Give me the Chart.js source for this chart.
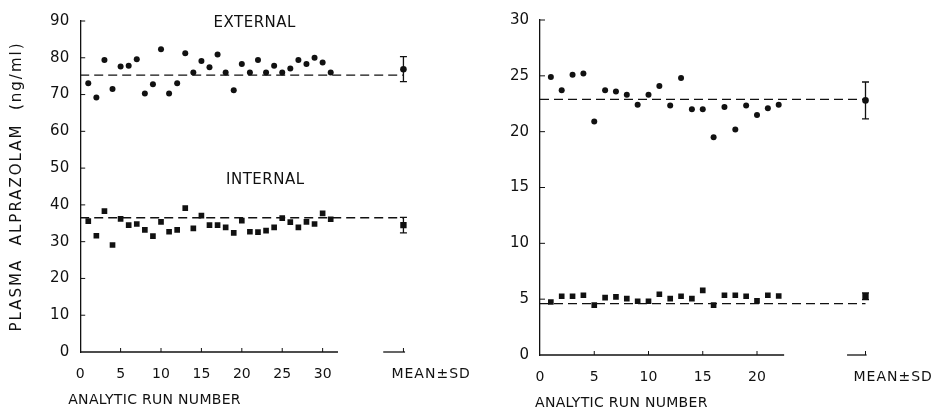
<!DOCTYPE html>
<html><head><meta charset="utf-8">
<script src="https://cdn.jsdelivr.net/npm/chart.js@4"></script>
<style>
html,body{margin:0;padding:0;background:#fff;}
#wrap{position:relative;width:937px;height:413px;background:#fff;}
.box{position:absolute;top:0;height:413px;}
</style></head><body>
<div id="wrap">
<div class="box" style="left:0;width:470px"><canvas id="c1"></canvas></div>
<div class="box" style="left:470px;width:467px"><canvas id="c2"></canvas></div>
</div>
<script>
// ---------- data ----------
const leftRuns = [1,2,3,4,5,6,7,8,9,10,11,12,13,14,15,16,17,18,19,20,21,22,23,24,25,26,27,28,29,30,31];
const externalValues = [73.1,69.2,79.4,71.5,77.6,77.8,79.6,70.3,72.8,82.3,70.3,73.1,81.2,76.0,79.1,77.4,80.9,76.0,71.2,78.3,76.0,79.4,76.0,77.8,76.0,77.1,79.4,78.3,80.0,78.7,76.0];
const internalValues = [35.6,31.6,38.3,29.1,36.2,34.5,34.8,33.2,31.5,35.4,32.7,33.2,39.1,33.6,37.1,34.5,34.5,33.9,32.4,35.7,32.7,32.6,33.0,33.9,36.4,35.3,33.9,35.4,34.8,37.7,36.1];
const externalTarget = 75.3;
const internalTarget = 36.5;
const externalMean = 76.9, externalSd = 3.4;
const internalMean = 34.5, internalSd = 2.1;
const leftMeanRun = 40;
const leftXTicks = [0,5,10,15,20,25,30];
const leftYTicks = [0,10,20,30,40,50,60,70,80,90];

const rightRuns = [1,2,3,4,5,6,7,8,9,10,11,12,13,14,15,16,17,18,19,20,21,22];
const highValues = [24.9,23.7,25.1,25.2,20.9,23.7,23.6,23.3,22.4,23.3,24.1,22.35,24.8,22.0,22.0,19.5,22.2,20.2,22.35,21.5,22.1,22.4];
const lowValues = [4.75,5.26,5.26,5.35,4.46,5.14,5.2,5.05,4.81,4.81,5.44,5.05,5.26,5.05,5.79,4.46,5.35,5.35,5.26,4.84,5.35,5.28];
const highTarget = 22.9;
const lowTarget = 4.6;
const highMean = 22.8, highSd = 1.65;
const lowMean = 5.26, lowSd = 0.3;
const rightMeanRun = 30;
const rightXTicks = [0,5,10,15,20];
const rightYTicks = [0,5,10,15,20,25,30];

const meanLabel = 'MEAN\u00B1SD';
const xTitle = 'ANALYTIC RUN NUMBER';
const yTitle = 'PLASMA  ALPRAZOLAM  (ng/ml)';

// ---------- drawing ----------
const INK = '#111';
const FONT = "'DejaVu Sans', 'Liberation Sans', Arial, sans-serif";

function spacedText(ctx, text, x, y, spacing) {
  if ('letterSpacing' in ctx) {
    ctx.letterSpacing = spacing + 'px';
    ctx.fillText(text, x, y);
    ctx.letterSpacing = '0px';
  } else {
    ctx.fillText(text, x, y);
  }
}

const decor = {
  id: 'decor',
  afterDatasetsDraw(chart, args, o) {
    const ctx = chart.ctx, xs = chart.scales.x, ys = chart.scales.y;
    const y0 = ys.getPixelForValue(0);
    ctx.save();
    ctx.strokeStyle = INK; ctx.fillStyle = INK; ctx.lineWidth = 1.3;
    // broken x axis
    o.axisSegments.forEach(s => {
      ctx.beginPath();
      ctx.moveTo(xs.getPixelForValue(s[0]), y0);
      ctx.lineTo(xs.getPixelForValue(s[1]), y0);
      ctx.stroke();
    });
    // inward ticks
    ctx.lineWidth = 1;
    o.xTicks.concat([o.meanRun]).forEach(v => {
      if (v === 0) return;
      const px = xs.getPixelForValue(v);
      ctx.beginPath(); ctx.moveTo(px, y0); ctx.lineTo(px, y0 - 4); ctx.stroke();
    });
    o.yTicks.forEach(v => {
      if (v === 0) return;
      const py = ys.getPixelForValue(v);
      ctx.beginPath(); ctx.moveTo(chart.chartArea.left, py); ctx.lineTo(chart.chartArea.left + 5, py); ctx.stroke();
    });
    // error bars
    ctx.lineWidth = 1.3;
    o.errorBars.forEach(e => {
      const px = xs.getPixelForValue(o.meanRun);
      const top = ys.getPixelForValue(e[0] + e[1]);
      const bot = ys.getPixelForValue(e[0] - e[1]);
      ctx.beginPath();
      ctx.moveTo(px, top); ctx.lineTo(px, bot);
      ctx.moveTo(px - 3.5, top); ctx.lineTo(px + 3.5, top);
      ctx.moveTo(px - 3.5, bot); ctx.lineTo(px + 3.5, bot);
      ctx.stroke();
    });
    // annotations
    ctx.textAlign = 'center'; ctx.textBaseline = 'middle';
    ctx.font = '15px ' + FONT;
    o.labels.forEach(l => {
      spacedText(ctx, l.text, xs.getPixelForValue(l.x), ys.getPixelForValue(l.y), 0.5);
    });
    ctx.font = '14px ' + FONT;
    spacedText(ctx, xTitle, xs.getPixelForValue(o.xTitleAt), chart.chartArea.bottom + o.xTitleOffset, 0.3);
    // MEAN±SD label under the broken axis piece
    ctx.textAlign = 'left';
    ctx.font = '14px ' + FONT;
    spacedText(ctx, meanLabel, xs.getPixelForValue(o.meanRun) - 12, chart.chartArea.bottom + 22, 1);
    // y title
    if (o.yTitle) {
      ctx.save();
      ctx.translate(17, (chart.chartArea.top + chart.chartArea.bottom) / 2);
      ctx.rotate(-Math.PI / 2);
      ctx.textAlign = 'center';
      ctx.font = '15px ' + FONT;
      spacedText(ctx, o.yTitle, 0, 0, 2);
      ctx.restore();
    }
    ctx.restore();
  }
};

function makeChart(id, cfg) {
  const series = cfg.series.map(s => ({
    type: 'scatter',
    data: cfg.runs.map((r, i) => ({x: r, y: s.values[i]})),
    pointStyle: s.style, pointRadius: s.style === 'rect' ? 4 : 3,
    backgroundColor: INK, borderColor: INK, borderWidth: 0, order: 1
  }));
  const means = cfg.series.map(s => ({
    type: 'scatter',
    data: [{x: cfg.meanRun, y: s.mean}],
    pointStyle: s.style, pointRadius: s.style === 'rect' ? 4.5 : 3.3,
    backgroundColor: INK, borderColor: INK, borderWidth: 0, order: 1
  }));
  const targets = cfg.series.map(s => ({
    type: 'line',
    data: [{x: 0, y: s.target}, {x: cfg.meanRun, y: s.target}],
    borderColor: INK, borderWidth: 1.3, borderDash: [9, 5],
    pointRadius: 0, fill: false, order: 2, clip: false
  }));
  return new Chart(document.getElementById(id), {
    type: 'scatter',
    data: {datasets: [...targets, ...series, ...means]},
    plugins: [decor],
    options: {
      responsive: true, maintainAspectRatio: false, animation: false,
      events: [],
      layout: {padding: {left: 0, right: cfg.padRight, top: cfg.padTop, bottom: 0}},
      plugins: {
        legend: {display: false}, tooltip: {enabled: false}, title: {display: false},
        decor: {
          axisSegments: cfg.axisSegments, xTicks: cfg.xTicks, yTicks: cfg.yTicks,
          meanRun: cfg.meanRun, labels: cfg.labels,
          errorBars: cfg.series.map(s => [s.mean, s.sd]),
          xTitleAt: cfg.xTitleAt, xTitleOffset: 48, yTitle: cfg.yTitle
        }
      },
      scales: {
        x: {
          type: 'linear', min: 0, max: cfg.xMax,
          afterBuildTicks: sc => { sc.ticks = cfg.xTicks.map(v => ({value: v})); },
          afterFit: sc => { sc.height = cfg.xHeight; },
          ticks: {
            autoSkip: false, maxRotation: 0, padding: 14, color: INK,
            font: {family: FONT, size: 14}
          },
          grid: {display: true, drawOnChartArea: false, drawTicks: false},
          border: {display: false}
        },
        y: {
          type: 'linear', min: 0, max: cfg.yMax,
          afterBuildTicks: sc => { sc.ticks = cfg.yTicks.map(v => ({value: v})); },
          afterFit: sc => { sc.width = cfg.yWidth; },
          ticks: {padding: 11, color: INK, font: {family: FONT, size: 15}},
          grid: {display: true, drawOnChartArea: false, drawTicks: false},
          border: {display: true, color: INK, width: 1.3}
        }
      }
    }
  });
}

makeChart('c1', {
  runs: leftRuns, meanRun: leftMeanRun, xMax: 42, yMax: 90,
  xTicks: leftXTicks, yTicks: leftYTicks,
  padRight: 50.4, padTop: 21, xHeight: 61, yWidth: 80.2,
  axisSegments: [[0, 31.9], [37.5, 40.2]],
  series: [
    {values: externalValues, style: 'circle', target: externalTarget, mean: externalMean, sd: externalSd},
    {values: internalValues, style: 'rect', target: internalTarget, mean: internalMean, sd: internalSd}
  ],
  labels: [{text: 'EXTERNAL', x: 21.6, y: 89.3}, {text: 'INTERNAL', x: 22.9, y: 46.8}],
  xTitleAt: 9.2, yTitle: yTitle
});

makeChart('c2', {
  runs: rightRuns, meanRun: rightMeanRun, xMax: 32, yMax: 30,
  xTicks: rightXTicks, yTicks: rightYTicks,
  padRight: 49.8, padTop: 18.5, xHeight: 58, yWidth: 70,
  axisSegments: [[0, 22.5], [28.3, 30.1]],
  series: [
    {values: highValues, style: 'circle', target: highTarget, mean: highMean, sd: highSd},
    {values: lowValues, style: 'rect', target: lowTarget, mean: lowMean, sd: lowSd}
  ],
  labels: [],
  xTitleAt: 7.5, yTitle: ''
});
</script>
</body></html>
